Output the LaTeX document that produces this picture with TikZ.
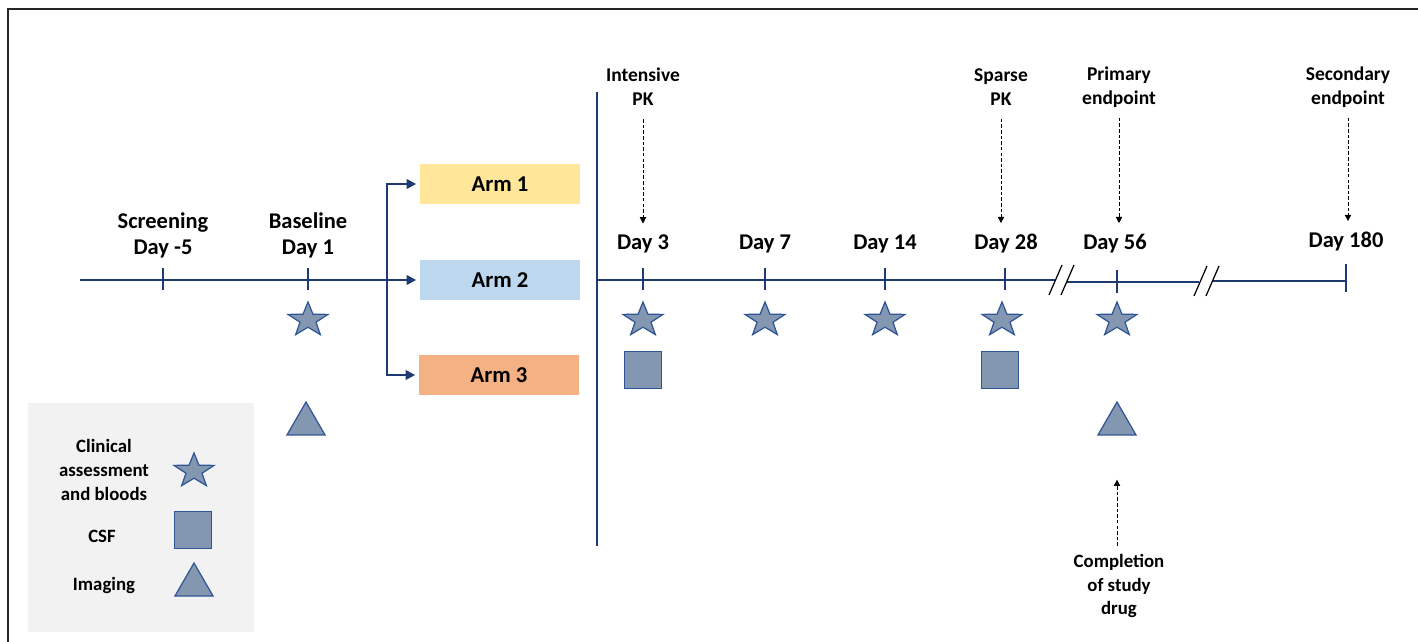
\documentclass[tikz,border=0pt]{standalone}
\usepackage{fontspec}
\setmainfont{Carlito}
\usepackage{xcolor}
\usepackage{tikz}
\usetikzlibrary{shapes, arrows.meta, positioning, calc}
\definecolor{navy}{HTML}{1F3A70}
\definecolor{markfill}{HTML}{8497B0}
\definecolor{markline}{HTML}{2F5597}
\definecolor{armone}{HTML}{FFE699}
\definecolor{armtwo}{HTML}{BDD7EE}
\definecolor{armthree}{HTML}{F4B183}
\definecolor{legendbg}{HTML}{F2F2F2}
\tikzset{
    daylab/.style={align=center, inner sep=0pt, font=\fontsize{12.8}{14.8}\selectfont\bfseries},
    pklab/.style={align=center, inner sep=0pt, font=\fontsize{11.1}{13.7}\selectfont\bfseries},
    legtext/.style={align=center, inner sep=0pt, font=\fontsize{10.7}{13.4}\selectfont\bfseries},
    armbox/.style={rectangle, minimum width=3.22cm, minimum height=0.82cm, font=\fontsize{12.9}{14}\selectfont\bfseries},
    visit/.style={star, star points=5, star point ratio=2.5, minimum size=0.84cm, yscale=0.86, inner sep=0pt, draw=markline, fill=markfill, line width=0.7pt},
    csf/.style={rectangle, minimum size=0.75cm, inner sep=0pt, draw=markline, fill=markfill, line width=0.7pt},
    scan/.style={regular polygon, regular polygon sides=3, minimum size=0.88cm, inner sep=0pt, draw=markline, fill=markfill, line width=0.7pt},
    tline/.style={draw=navy, line width=1.2pt},
    flow/.style={-{Triangle[length=5.5pt, width=5.5pt]}, draw=navy, line width=1.2pt},
    dasharrow/.style={-{Triangle[length=3.6pt, width=3.6pt]}, dash pattern=on 2pt off 1.2pt, line width=0.5pt},
    brk/.style={line width=0.7pt}
}

\begin{document}
\begin{tikzpicture}[x=0.02cm, y=-0.02cm]
  \useasboundingbox (0,0) rectangle (1418,642);
  % frame and legend panel
  \draw[line width=1.1pt, black!85] (1418,9) -- (8,9) -- (8,642);
  \fill[legendbg] (28,403) rectangle (254,632);

  % randomisation
  \node[armbox, fill=armone] (arm1) at (500,184) {Arm 1};
  \node[armbox, fill=armtwo] (arm2) at (500,280) {Arm 2};
  \node[armbox, fill=armthree] (arm3) at (499,375) {Arm 3};
  \coordinate (tstart) at (80,280);
  \coordinate (split) at (387,280);
  \draw[tline] (tstart) -- (split);
  \draw[flow, shorten >=0.06cm] (split) -- (arm2);
  \draw[flow, shorten >=0.06cm] (split) |- (arm1);
  \draw[flow, shorten >=0.06cm] (split) |- (arm3);

  % timeline after randomisation
  \coordinate (vtop) at (597,92);
  \coordinate (vbot) at (597,546);
  \draw[draw=navy, line width=1.4pt] (vtop) -- (vbot);
  \coordinate (j0) at (597,280);
  \coordinate (b1l) at (1055,280);
  \coordinate (b1r) at (1067,282);
  \coordinate (b2l) at (1199,282);
  \coordinate (b2r) at (1213,281);
  \coordinate (tend) at (1346,281);
  \draw[tline] (j0) -- (b1l);
  \draw[tline] (b1r) -- (b2l);
  \draw[tline] (b2r) -- (tend);
  \draw[brk] (1049,295) -- (1062,265) (1061,295) -- (1074,265);
  \draw[brk] (1194,296) -- (1207,266) (1206,296) -- (1219,266);

  % ticks
  \foreach \x in {163,308,643,765,885,1005}
    \draw[tline] (\x,268) -- (\x,290);
  \draw[tline] (1117,270) -- (1117,293);
  \draw[tline] (1346,264) -- (1346,292);

  % visit labels
  \node[daylab] (scr) at (163,235) {Screening\\Day -5};
  \node[daylab] (base) at (308,235) {Baseline\\Day 1};
  \node[daylab] (d3) at (643,244) {Day 3};
  \node[daylab] (d7) at (765,244) {Day 7};
  \node[daylab] (d14) at (885,244) {Day 14};
  \node[daylab] (d28) at (1006,244) {Day 28};
  \node[daylab] (d56) at (1115,244) {Day 56};
  \node[daylab] (d180) at (1346,242) {Day 180};

  % PK and endpoints
  \node[pklab] (ipk) at (643,87) {Intensive\\PK};
  \node[pklab] (spk) at (1001,87) {Sparse\\PK};
  \node[pklab] (prim) at (1119,87) {Primary\\endpoint};
  \node[pklab] (sec) at (1348,87) {Secondary\\endpoint};
  \draw[dasharrow, shorten <=0.26cm, shorten >=0.22cm] (ipk) -- (d3);
  \draw[dasharrow, shorten <=0.26cm, shorten >=0.22cm] (spk) -- (spk |- d28.north);
  \draw[dasharrow, shorten <=0.2cm, shorten >=0.22cm] (prim) -- (prim |- d56.north);
  \draw[dasharrow, shorten <=0.2cm, shorten >=0.22cm] (sec) -- (sec |- d180.north);

  % assessments
  \foreach \x/\n in {308/v1,643/v3,765/v7,885/v14,1002/v28,1117/v56}
    \node[visit] (\n) at (\x,320) {};
  \node[csf] (c3) at (643,370) {};
  \node[csf] (c28) at (1000,370) {};
  \node[scan] (i1) at (306,424) {};
  \node[scan] (i56) at (1117,424) {};

  \node[legtext] (cmpl) at (1119,586) {Completion\\of study\\drug};
  \draw[dasharrow, shorten <=0.16cm, shorten >=0.88cm] (cmpl.north -| i56) -- (i56.south);

  % legend
  \node[legtext] (lclin) at (104,470) {Clinical\\assessment\\and bloods};
  \node[legtext] (lcsf) at (102,536) {CSF};
  \node[legtext] (limg) at (104,585) {Imaging};
  \node[visit] (kclin) at (194,471) {};
  \node[csf] (kcsf) at (193,530) {};
  \node[scan] (kimg) at (194,585) {};
\end{tikzpicture}
\end{document}
